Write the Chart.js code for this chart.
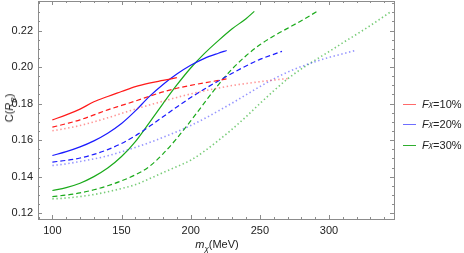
<!DOCTYPE html>
<html>
<head>
<meta charset="utf-8">
<script src="https://cdn.jsdelivr.net/npm/chart.js@4.4.1/dist/chart.umd.min.js"></script>
<style>
  html, body { margin: 0; padding: 0; background: #fff; }
  #wrap { position: relative; width: 464px; height: 253px; font-family: "Liberation Sans", Arial, sans-serif; color: #222; }
  canvas { position: absolute; left: 0; top: 0; }
  .ytitle { position: absolute; left: 9px; top: 108px; transform: translate(-50%, -50%) rotate(-90deg); font-size: 11px; white-space: nowrap; }
  .xtitle { position: absolute; left: 217px; top: 244px; transform: translate(-50%, -50%); font-size: 11px; white-space: nowrap; }
  .leg { position: absolute; left: 403px; font-size: 11px; white-space: nowrap; transform: translateY(-50%); display: flex; align-items: center; }
  .leg .ln { display: inline-block; width: 13px; height: 1px; margin-right: 6px; }
  sub { font-size: 8px; vertical-align: -3px; line-height: 0; }
</style>
</head>
<body>
<div id="wrap">
  <canvas id="c" width="464" height="253"></canvas>
  <div class="ytitle">C(<i>R</i><sub><i>B</i></sub>)</div>
  <div class="xtitle"><i>m</i><sub><i>χ</i></sub>(MeV)</div>
  <div class="leg" style="top:104px"><span class="ln" style="background:#ff6a6a"></span><i>F</i><sub><i>χ</i></sub>=10%</div>
  <div class="leg" style="top:124px"><span class="ln" style="background:#6e6eff"></span><i>F</i><sub><i>χ</i></sub>=20%</div>
  <div class="leg" style="top:145px"><span class="ln" style="background:#2fae2f"></span><i>F</i><sub><i>χ</i></sub>=30%</div>
</div>
<script>
// ---- data (m_chi in MeV, C(R_B)) ----
const redSolidX   = [100, 110, 120, 130, 140, 150, 160, 170, 180, 190];
const redSolidY   = [0.1711, 0.1738, 0.1770, 0.1810, 0.1839, 0.1866, 0.1893, 0.1912, 0.1927, 0.1942];
const redDashX    = [100, 110, 120, 130, 140, 150, 160, 170, 180, 190, 200, 210, 220, 226];
const redDashY    = [0.1671, 0.1690, 0.1711, 0.1738, 0.1766, 0.1790, 0.1814, 0.1840, 0.1864, 0.1884, 0.1900, 0.1914, 0.1927, 0.1936];
const redDotX     = [100, 110, 120, 130, 140, 150, 160, 170, 180, 190, 200, 210, 220, 230, 240, 250, 260, 270];
const redDotY     = [0.1651, 0.1664, 0.1680, 0.1700, 0.1722, 0.1746, 0.1770, 0.1792, 0.1813, 0.1834, 0.1853, 0.1870, 0.1885, 0.1899, 0.1910, 0.1920, 0.1929, 0.1937];

const blueSolidX  = [100, 110, 120, 130, 140, 150, 160, 170, 180, 190, 200, 210, 220, 226];
const blueSolidY  = [0.1516, 0.1537, 0.1563, 0.1596, 0.1638, 0.1691, 0.1760, 0.1838, 0.1905, 0.1962, 0.2010, 0.2048, 0.2076, 0.2091];
const blueDashX   = [100, 110, 120, 130, 140, 150, 160, 170, 180, 190, 200, 210, 220, 230, 240, 250, 260, 266];
const blueDashY   = [0.1480, 0.1489, 0.1502, 0.1522, 0.1548, 0.1582, 0.1624, 0.1674, 0.1728, 0.1782, 0.1833, 0.1880, 0.1924, 0.1966, 0.2006, 0.2042, 0.2070, 0.2086];
const blueDotX    = [100, 110, 120, 130, 140, 150, 160, 170, 180, 190, 200, 210, 220, 230, 240, 250, 260, 270, 280, 290, 300, 310, 319];
const blueDotY    = [0.1461, 0.1470, 0.1483, 0.1497, 0.1514, 0.1536, 0.1560, 0.1586, 0.1615, 0.1646, 0.1680, 0.1718, 0.1760, 0.1803, 0.1848, 0.1893, 0.1935, 0.1972, 0.2003, 0.2030, 0.2053, 0.2073, 0.2091];

const greenSolidX = [100, 110, 120, 130, 140, 150, 160, 170, 180, 190, 200, 210, 220, 230, 240, 246];
const greenSolidY = [0.1324, 0.1340, 0.1364, 0.1400, 0.1447, 0.1510, 0.1592, 0.1695, 0.1800, 0.1902, 0.1995, 0.2075, 0.2145, 0.2210, 0.2265, 0.2305];
const greenDashX  = [100, 110, 120, 130, 140, 150, 160, 170, 180, 190, 200, 210, 220, 230, 240, 250, 260, 270, 280, 291];
const greenDashY  = [0.1291, 0.1299, 0.1311, 0.1328, 0.1350, 0.1377, 0.1410, 0.1455, 0.1525, 0.1610, 0.1705, 0.1805, 0.1903, 0.1990, 0.2062, 0.2122, 0.2170, 0.2212, 0.2254, 0.2303];
const greenDotX   = [100, 110, 120, 130, 140, 150, 160, 170, 180, 190, 200, 210, 220, 230, 240, 250, 260, 270, 280, 290, 300, 310, 320, 330, 345];
const greenDotY   = [0.1278, 0.1283, 0.1291, 0.1302, 0.1317, 0.1335, 0.1356, 0.1388, 0.1422, 0.1455, 0.1490, 0.1540, 0.1598, 0.1660, 0.1728, 0.1800, 0.1870, 0.1935, 0.1990, 0.2038, 0.2085, 0.2133, 0.2180, 0.2228, 0.2305];

const xTickStep = 50, xMinorStep = 10;
const yTickStep = 0.02, yMinorStep = 0.005;

// ---- build ----
const zip = (xs, ys) => xs.map((x, i) => ({ x: x, y: ys[i] }));
const RED = '#ff1a1a', BLUE = '#1a1aff', GREEN = '#1aaa1a';
const RED_L = 'rgba(255,60,60,0.55)', BLUE_L = 'rgba(60,60,255,0.55)', GREEN_L = 'rgba(30,170,30,0.6)';
function ds(xs, ys, color, style) {
  return {
    data: zip(xs, ys),
    borderColor: color,
    borderWidth: style === 'dot' ? 1.6 : 1.2,
    borderDash: style === 'dash' ? [5, 3] : (style === 'dot' ? [1.4, 2.6] : []),
    borderCapStyle: 'butt',
    pointRadius: 0,
    fill: false,
    cubicInterpolationMode: 'monotone'
  };
}

const frameTicks = {
  id: 'frameTicks',
  afterDraw(chart) {
    const { ctx, chartArea: a, scales } = chart;
    const xs = scales.x, ys = scales.y;
    ctx.save();
    ctx.strokeStyle = '#8c8c8c';
    ctx.lineWidth = 1;
    ctx.strokeRect(Math.round(a.left) + 0.5, Math.round(a.top) + 0.5, Math.round(a.right - a.left), Math.round(a.bottom - a.top));
    ctx.beginPath();
    const x0 = Math.ceil(xs.min / xMinorStep) * xMinorStep;
    for (let v = x0; v <= xs.max + 1e-9; v += xMinorStep) {
      const px = Math.round(xs.getPixelForValue(v)) + 0.5;
      const major = Math.abs(v / xTickStep - Math.round(v / xTickStep)) < 1e-6;
      const len = major ? 4 : 2;
      ctx.moveTo(px, a.bottom); ctx.lineTo(px, a.bottom - len);
      ctx.moveTo(px, a.top); ctx.lineTo(px, a.top + len);
    }
    const y0 = Math.ceil(ys.min / yMinorStep - 1e-6) * yMinorStep;
    for (let k = 0; ; k++) {
      const v = y0 + k * yMinorStep;
      if (v > ys.max + 1e-9) break;
      const py = Math.round(ys.getPixelForValue(v)) + 0.5;
      const major = Math.abs(v / yTickStep - Math.round(v / yTickStep)) < 1e-6;
      const len = major ? 4 : 2;
      ctx.moveTo(a.left, py); ctx.lineTo(a.left + len, py);
      ctx.moveTo(a.right, py); ctx.lineTo(a.right - len, py);
    }
    ctx.stroke();
    ctx.restore();
  }
};

new Chart(document.getElementById('c'), {
  type: 'line',
  data: {
    datasets: [
      ds(redSolidX, redSolidY, RED, 'solid'),
      ds(redDashX, redDashY, RED, 'dash'),
      ds(redDotX, redDotY, RED_L, 'dot'),
      ds(blueSolidX, blueSolidY, BLUE, 'solid'),
      ds(blueDashX, blueDashY, BLUE, 'dash'),
      ds(blueDotX, blueDotY, BLUE_L, 'dot'),
      ds(greenSolidX, greenSolidY, GREEN, 'solid'),
      ds(greenDashX, greenDashY, GREEN, 'dash'),
      ds(greenDotX, greenDotY, GREEN_L, 'dot')
    ]
  },
  options: {
    responsive: false,
    animation: false,
    devicePixelRatio: 1,
    layout: { padding: { top: 1, right: 70, left: 0, bottom: 0 } },
    plugins: { legend: { display: false }, tooltip: { enabled: false } },
    scales: {
      x: {
        type: 'linear',
        min: 89.6, max: 347,
        grid: { display: false, drawTicks: false },
        border: { display: false },
        ticks: { stepSize: xTickStep, includeBounds: false, padding: 5, color: '#222', maxRotation: 0,
                 font: { family: 'Liberation Sans', size: 11 } },
        afterFit(s) { s.height = 34; s.paddingLeft = 0; s.paddingRight = 0; }
      },
      y: {
        type: 'linear',
        min: 0.1168, max: 0.2362,
        grid: { display: false, drawTicks: false },
        border: { display: false },
        ticks: { stepSize: yTickStep, includeBounds: false, padding: 5, color: '#222',
                 font: { family: 'Liberation Sans', size: 11 },
                 callback: v => v.toFixed(2) },
        afterFit(s) { s.width = 38; s.paddingTop = 0; s.paddingBottom = 0; }
      }
    }
  },
  plugins: [frameTicks]
});
</script>
</body>
</html>
